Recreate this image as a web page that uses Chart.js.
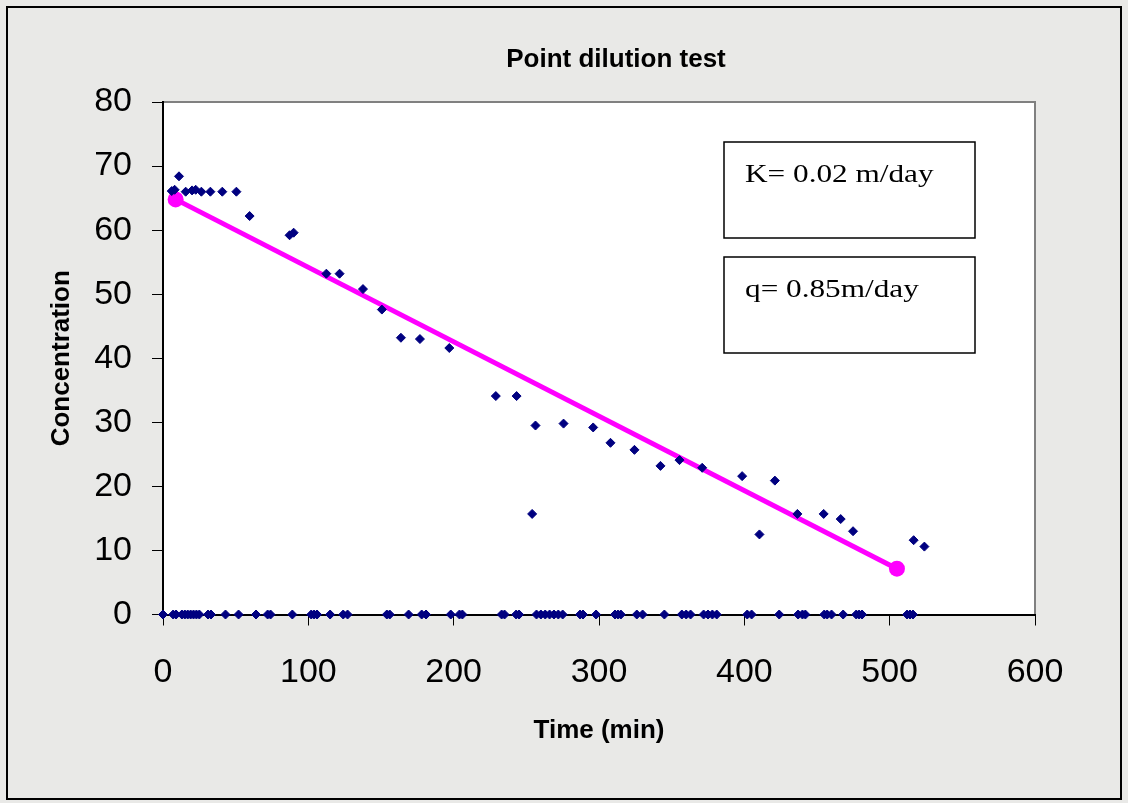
<!DOCTYPE html>
<html>
<head>
<meta charset="utf-8">
<script src="https://cdn.jsdelivr.net/npm/chart.js@4"></script>
<style>
  html, body { margin: 0; padding: 0; background: #e9e9e7; }
  #wrap { width: 1128px; height: 803px; position: relative; }
</style>
</head>
<body>
<div id="wrap"><canvas id="myChart" width="1128" height="803"></canvas></div>
<script>
// measured concentrations
const measuredTime = [6, 8, 11, 15.6, 20, 22.5, 26.4, 32.6, 40.8, 50.5, 59.6, 87.1, 89.9, 112.4, 121.5, 137.6, 150.6, 163.7, 176.8, 197, 229, 243.3, 254, 256.3, 275.6, 296, 307.9, 324.4, 342.3, 355.4, 371, 398.5, 410.4, 421, 436.5, 454.6, 466.3, 474.8, 516.5, 523.9];
const measuredConc = [66.1, 66.3, 68.4, 66.0, 66.2, 66.3, 66.0, 66.0, 66.0, 66.0, 62.2, 59.2, 59.6, 53.2, 53.2, 50.8, 47.6, 43.2, 43.0, 41.6, 34.1, 34.1, 15.7, 29.5, 29.8, 29.2, 26.8, 25.7, 23.2, 24.1, 22.9, 21.6, 12.5, 20.9, 15.7, 15.7, 14.9, 13.0, 11.6, 10.6];
// readings that came out as zero
const zeroTime = [0, 7, 9, 13, 15, 17, 19, 21, 23, 25, 31, 33, 43, 52, 64, 72, 74, 89, 102, 104, 106, 115, 124, 127, 154, 156, 169, 178, 181, 198, 204, 206, 233, 235, 243, 245, 257, 260, 263, 266, 269, 272, 275, 287, 289, 298, 311, 313, 315, 326, 330, 345, 357, 360, 363, 372, 375, 378, 381, 402, 405, 424, 437, 440, 442, 455, 457, 460, 468, 477, 479, 481, 512, 514, 516];
// fitted line end points
const fitTime = [8.7, 505];
const fitConc = [64.8, 7.15];

const xTicks = [0, 100, 200, 300, 400, 500, 600];
const yTicks = [0, 10, 20, 30, 40, 50, 60, 70, 80];
const notes = ['K= 0.02 m/day', 'q= 0.85m/day'];

const points = measuredTime.map((t, i) => ({ x: t, y: measuredConc[i] }))
  .concat(zeroTime.map(t => ({ x: t, y: 0 })));
const fitPoints = fitTime.map((t, i) => ({ x: t, y: fitConc[i] }));

const sans = "'Liberation Sans', Arial, sans-serif";

const framePlugin = {
  id: 'frame',
  beforeDraw(chart) {
    const ctx = chart.ctx;
    const a = chart.chartArea;
    ctx.save();
    ctx.fillStyle = '#e9e9e7';
    ctx.fillRect(0, 0, chart.width, chart.height);
    ctx.strokeStyle = '#000';
    ctx.lineWidth = 2;
    ctx.strokeRect(7, 7, 1114, 792);
    ctx.fillStyle = '#fff';
    ctx.fillRect(a.left, a.top, a.right - a.left, a.bottom - a.top);
    ctx.strokeStyle = '#808080';
    ctx.lineWidth = 2;
    ctx.beginPath();
    ctx.moveTo(a.left, a.top);
    ctx.lineTo(a.right, a.top);
    ctx.lineTo(a.right, a.bottom);
    ctx.stroke();
    // title
    ctx.fillStyle = '#000';
    ctx.font = 'bold 26px ' + sans;
    ctx.textAlign = 'center';
    ctx.textBaseline = 'alphabetic';
    ctx.fillText('Point dilution test', 616, 67);
    ctx.restore();
  },
  afterDraw(chart) {
    const ctx = chart.ctx;
    ctx.save();
    ctx.strokeStyle = '#000';
    ctx.lineWidth = 1.5;
    ctx.fillStyle = '#fff';
    const boxes = [[724, 142, 251, 96], [724, 257, 251, 96]];
    boxes.forEach((b, i) => {
      ctx.fillRect(b[0], b[1], b[2], b[3]);
      ctx.strokeRect(b[0], b[1], b[2], b[3]);
      ctx.save();
      ctx.fillStyle = '#000';
      ctx.font = "25px 'Liberation Serif', 'Times New Roman', serif";
      ctx.textAlign = 'left';
      ctx.textBaseline = 'alphabetic';
      ctx.translate(745, b[1] + 40);
      ctx.scale(1.25, 1);
      ctx.fillText(notes[i], 0, 0);
      ctx.restore();
    });
    ctx.restore();
  }
};

const ctx = document.getElementById('myChart').getContext('2d');
const chart = new Chart(ctx, {
  type: 'scatter',
  data: {
    datasets: [{
      label: 'Concentration',
      data: points,
      pointStyle: 'rectRot',
      pointRadius: 4.5,
      pointBorderWidth: 1,
      backgroundColor: '#000080',
      borderColor: '#000080',
      clip: false,
      order: 0
    }, {
      label: 'Fit',
      data: fitPoints,
      showLine: true,
      borderColor: '#ff00ff',
      backgroundColor: '#ff00ff',
      borderWidth: 5,
      pointRadius: 8,
      pointBorderWidth: 0,
      clip: false,
      order: 1
    }]
  },
  options: {
    responsive: false,
    animation: false,
    layout: { padding: { left: 0, top: 102, right: 93, bottom: 0 } },
    plugins: {
      legend: { display: false },
      title: { display: false },
      tooltip: { enabled: false }
    },
    scales: {
      x: {
        type: 'linear',
        min: 0,
        max: 600,
        afterBuildTicks: s => { s.ticks = xTicks.map(v => ({ value: v })); },
        afterFit: s => { s.height = 188.5; },
        grid: { drawOnChartArea: false, drawTicks: true, tickLength: 11, color: '#000', lineWidth: 1 },
        border: { color: '#000', width: 2 },
        ticks: { color: '#000', font: { family: sans, size: 34 }, padding: 27 },
        title: { display: true, text: 'Time (min)', color: '#000', font: { family: sans, size: 26, weight: 'bold' }, padding: { top: 0, bottom: 57 } }
      },
      y: {
        type: 'linear',
        min: 0,
        max: 80,
        afterBuildTicks: s => { s.ticks = yTicks.map(v => ({ value: v })); },
        afterFit: s => { s.width = 163; },
        grid: { drawOnChartArea: false, drawTicks: true, tickLength: 11, color: '#000', lineWidth: 1 },
        border: { color: '#000', width: 2 },
        ticks: { color: '#000', font: { family: sans, size: 34 }, padding: 20 },
        title: { display: true, text: 'Concentration', color: '#000', font: { family: sans, size: 26, weight: 'bold' }, padding: { top: 46, bottom: 0 } }
      }
    }
  },
  plugins: [framePlugin]
});
</script>
</body>
</html>
